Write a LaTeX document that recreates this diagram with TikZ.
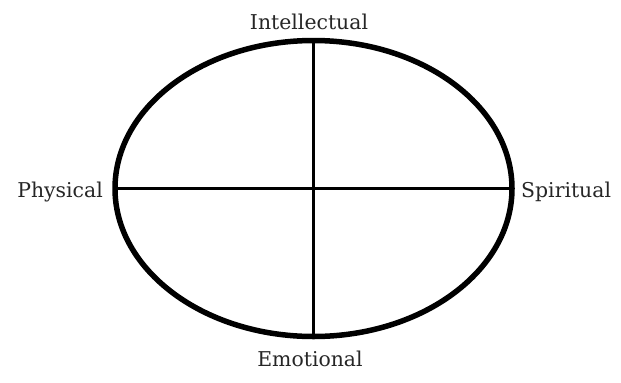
\documentclass[tikz,border=0pt]{standalone}
\usepackage{fontspec}
\setmainfont{DejaVu Serif}
\begin{document}
\begin{tikzpicture}[x=1bp,y=-1bp,
  lab/.style={inner sep=0pt,font=\fontsize{20.4bp}{22bp}\selectfont,text=black!85}]
\useasboundingbox (0,0) rectangle (621,382);
\coordinate (c) at (313.5,188.5);
\coordinate (t) at (313.5,40.5);
\coordinate (b) at (313.5,336.5);
\coordinate (l) at (115,188.5);
\coordinate (r) at (512,188.5);
\draw[line width=5.5bp] (c) ellipse [x radius=198.5, y radius=148];
\draw[line width=2.2bp] (t) -- (b);
\draw[line width=2.2bp] (l) -- (r);
\node[lab,anchor=base] (n1) at (309,29) {Intellectual};
\node[lab,anchor=base east] (n2) at (103,197) {Physical};
\node[lab,anchor=base west] (n3) at (521,197) {Spiritual};
\node[lab,anchor=base] (n4) at (310,366) {Emotional};
\end{tikzpicture}
\end{document}
